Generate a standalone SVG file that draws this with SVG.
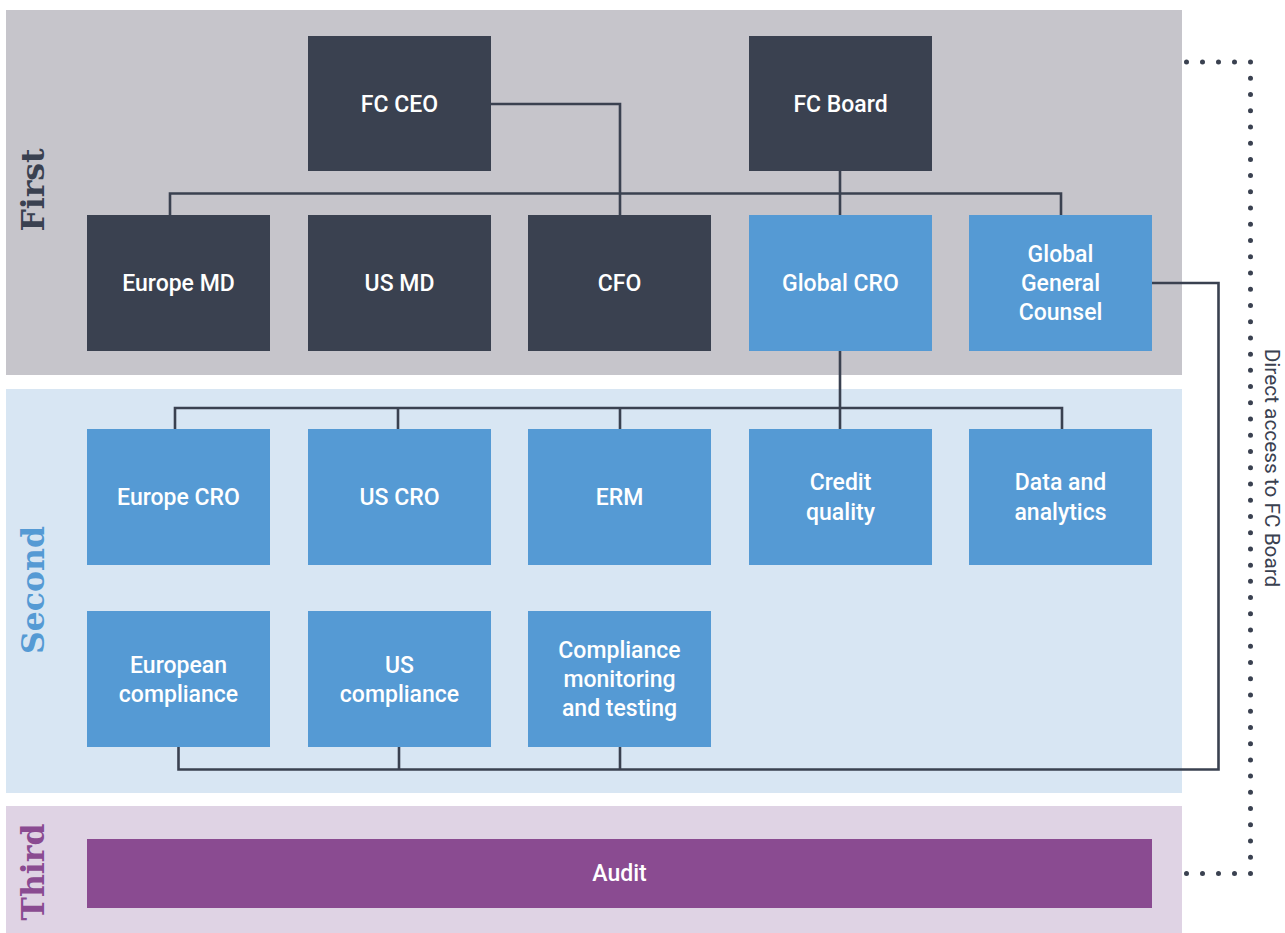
<svg xmlns="http://www.w3.org/2000/svg" width="1285" height="933" viewBox="0 0 1285 933">
<style>
.dark{fill:#3a4150}
.blue{fill:#559ad4}
.purple{fill:#8a4b91}
.t{fill:#ffffff;font-family:Roboto,"Liberation Sans",sans-serif;font-weight:500;font-size:23px;text-anchor:middle}
.band{font-family:"DejaVu Serif","Liberation Serif",serif;font-weight:bold;font-size:31.5px;text-anchor:middle;dominant-baseline:central}
.conn{fill:none;stroke:#3a4150;stroke-width:2.6}
.dots{fill:none;stroke:#3a4150;stroke-width:5;stroke-linecap:round}
</style>
<rect width="1285" height="933" fill="#ffffff"/>
<g id="bands">
<rect x="6" y="10" width="1176" height="365" fill="#c6c5cb"/>
<rect x="6" y="389" width="1176" height="404" fill="#d8e6f3"/>
<rect x="6" y="806" width="1176" height="127" fill="#dfd3e4"/>
<text class="band" transform="translate(32,190) rotate(-90)" fill="#3a4150">First</text>
<text class="band" transform="translate(32,590) rotate(-90)" fill="#559ad4">Second</text>
<text class="band" transform="translate(32,872) rotate(-90)" fill="#8a4b91">Third</text>
</g>
<g id="connectors">
<path class="conn" d="M491,104 H620 V215"/>
<path class="conn" d="M840,171 V215"/>
<path class="conn" d="M170,215 V193.5 H1061 V215"/>
<path class="conn" d="M840,351 V429"/>
<path class="conn" d="M175,429 V408 H1062 V429"/>
<path class="conn" d="M398,408 V429"/>
<path class="conn" d="M620,408 V429"/>
<path class="conn" d="M1152,283 H1218.5 V769.5 H178.5 V747"/>
<path class="conn" d="M399,747 V769.5"/>
<path class="conn" d="M620,747 V769.5"/>
<line class="dots" x1="1186.5" y1="62" x2="1250.5" y2="62" stroke-dasharray="0 16"/>
<line class="dots" x1="1250.5" y1="62" x2="1250.5" y2="873.5" stroke-dasharray="0 16.23"/>
<line class="dots" x1="1186.5" y1="873.5" x2="1250.5" y2="873.5" stroke-dasharray="0 16"/>
<text transform="translate(1272,468) rotate(90)" text-anchor="middle" dominant-baseline="central" fill="#3a4150" font-family="Roboto, 'Liberation Sans', sans-serif" font-size="20.8">Direct access to FC Board</text>
</g>
<g id="fc-ceo"><rect class="dark" x="308" y="36" width="183" height="135"/><text class="t" x="399.5" y="112">FC CEO</text></g>
<g id="fc-board"><rect class="dark" x="749" y="36" width="183" height="135"/><text class="t" x="840.5" y="112">FC Board</text></g>
<g id="europe-md"><rect class="dark" x="87" y="215" width="183" height="136"/><text class="t" x="178.5" y="291">Europe MD</text></g>
<g id="us-md"><rect class="dark" x="308" y="215" width="183" height="136"/><text class="t" x="399.5" y="291">US MD</text></g>
<g id="cfo"><rect class="dark" x="528" y="215" width="183" height="136"/><text class="t" x="619.5" y="291">CFO</text></g>
<g id="global-cro"><rect class="blue" x="749" y="215" width="183" height="136"/><text class="t" x="840.5" y="291">Global CRO</text></g>
<g id="global-general-counsel"><rect class="blue" x="969" y="215" width="183" height="136"/><text class="t" x="1060.5" y="262">Global<tspan x="1060.5" dy="29">General</tspan><tspan x="1060.5" dy="29">Counsel</tspan></text></g>
<g id="europe-cro"><rect class="blue" x="87" y="429" width="183" height="136"/><text class="t" x="178.5" y="505">Europe CRO</text></g>
<g id="us-cro"><rect class="blue" x="308" y="429" width="183" height="136"/><text class="t" x="399.5" y="505">US CRO</text></g>
<g id="erm"><rect class="blue" x="528" y="429" width="183" height="136"/><text class="t" x="619.5" y="505">ERM</text></g>
<g id="credit-quality"><rect class="blue" x="749" y="429" width="183" height="136"/><text class="t" x="840.5" y="490">Credit<tspan x="840.5" dy="30">quality</tspan></text></g>
<g id="data-analytics"><rect class="blue" x="969" y="429" width="183" height="136"/><text class="t" x="1060.5" y="490">Data and<tspan x="1060.5" dy="30">analytics</tspan></text></g>
<g id="european-compliance"><rect class="blue" x="87" y="611" width="183" height="136"/><text class="t" x="178.5" y="673">European<tspan x="178.5" dy="29">compliance</tspan></text></g>
<g id="us-compliance"><rect class="blue" x="308" y="611" width="183" height="136"/><text class="t" x="399.5" y="673">US<tspan x="399.5" dy="29">compliance</tspan></text></g>
<g id="compliance-monitoring"><rect class="blue" x="528" y="611" width="183" height="136"/><text class="t" x="619.5" y="658">Compliance<tspan x="619.5" dy="29">monitoring</tspan><tspan x="619.5" dy="29">and testing</tspan></text></g>
<g id="audit"><rect class="purple" x="87" y="839" width="1065" height="69"/><text class="t" x="619.5" y="881">Audit</text></g>
</svg>
